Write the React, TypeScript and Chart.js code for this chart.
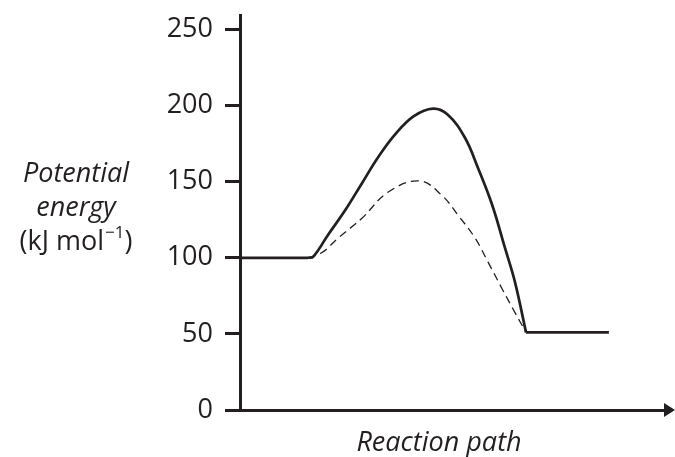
import React, { useEffect, useRef } from "react";
import { Chart, registerables } from "chart.js";

Chart.register(...registerables);

const INK = "#231f20";
const FONT = "'Open Sans', 'DejaVu Sans', sans-serif";

// y-axis tick values (kJ mol^-1)
const yTicks = [0, 50, 100, 150, 200, 250];

// Reaction path positions (arbitrary units) and potential energy
const reactantX = [0, 1.6];
const reactantY = [100, 100];

const solidX = [1.6, 1.72, 2.07, 2.47, 2.87, 3.25, 3.65, 4.09, 4.54, 4.89, 5.29, 5.6, 5.93, 6.24, 6.47, 6.73];
const solidY = [100, 100.6, 115, 131, 149, 166, 181, 193, 198, 194, 179, 159, 135, 106, 84, 51];

const dashedX = [1.6, 1.93, 2.31, 2.87, 3.48, 4.22, 4.75, 5.13, 5.53, 5.84, 6.16, 6.47, 6.73];
const dashedY = [100, 103.5, 113, 126, 143, 150.5, 141, 128, 113, 97, 80, 64, 51];

const productX = [6.73, 8.68];
const productY = [51, 51];

const yTitleLines = ["Potential", "energy"];
const yUnit = { main: "(kJ mol", sup: "\u22121", close: ")" };
const xTitle = "Reaction path";

const pts = (xs: number[], ys: number[]) => xs.map((x, i) => ({ x, y: ys[i] }));

const labelsPlugin = {
  id: "labelsAndArrow",
  afterDraw(chart: any) {
    const { ctx, chartArea } = chart;
    ctx.save();
    // arrowhead at the end of x axis
    const yb = chartArea.bottom;
    ctx.fillStyle = INK;
    ctx.beginPath();
    ctx.moveTo(chartArea.right - 1, yb - 7);
    ctx.lineTo(chartArea.right + 10, yb);
    ctx.lineTo(chartArea.right - 1, yb + 7);
    ctx.closePath();
    ctx.fill();

    // y title
    const cx = 76;
    ctx.textAlign = "center";
    ctx.textBaseline = "alphabetic";
    ctx.font = `italic 500 27px ${FONT}`;
    ctx.fillText(yTitleLines[0], cx, 182);
    ctx.fillText(yTitleLines[1], cx, 216);

    ctx.font = `500 27px ${FONT}`;
    const wMain = ctx.measureText(yUnit.main).width;
    const wClose = ctx.measureText(yUnit.close).width;
    ctx.font = `500 17px ${FONT}`;
    const wSup = ctx.measureText(yUnit.sup).width;
    const total = wMain + wSup + wClose + 1;
    const x0 = cx - total / 2;
    ctx.textAlign = "left";
    ctx.font = `500 27px ${FONT}`;
    ctx.fillText(yUnit.main, x0, 250);
    ctx.font = `500 17px ${FONT}`;
    ctx.fillText(yUnit.sup, x0 + wMain + 1, 238);
    ctx.font = `500 27px ${FONT}`;
    ctx.fillText(yUnit.close, x0 + wMain + wSup + 1, 250);

    // x title
    ctx.textAlign = "center";
    ctx.font = `italic 500 27px ${FONT}`;
    ctx.fillText(xTitle, 439, 451);
    ctx.restore();
  },
};

const straight = (xs: number[], ys: number[]) => ({
  data: pts(xs, ys),
  borderColor: INK,
  borderWidth: 2.7,
  pointRadius: 0,
  tension: 0,
  fill: false,
});

export default function App() {
  const ref = useRef<HTMLCanvasElement | null>(null);

  useEffect(() => {
    if (!ref.current) return;
    const chart = new Chart(ref.current, {
      type: "line",
      data: {
        datasets: [
          straight(reactantX, reactantY),
          {
            data: pts(solidX, solidY),
            borderColor: INK,
            borderWidth: 2.7,
            pointRadius: 0,
            tension: 0.4,
            fill: false,
          },
          {
            data: pts(dashedX, dashedY),
            borderColor: INK,
            borderWidth: 1.3,
            borderDash: [8, 5],
            pointRadius: 0,
            tension: 0.4,
            fill: false,
          },
          straight(productX, productY),
        ],
      },
      options: {
        responsive: false,
        animation: false,
        layout: { padding: { left: 0, right: 10, top: 15, bottom: 47 } },
        plugins: { legend: { display: false }, tooltip: { enabled: false } },
        scales: {
          x: {
            type: "linear",
            min: 0,
            max: 10,
            ticks: { display: false },
            grid: { display: false },
            border: { display: true, color: INK, width: 3 },
            afterFit: (s: any) => {
              s.height = 0;
              s.paddingLeft = 0;
              s.paddingRight = 0;
            },
          },
          y: {
            type: "linear",
            min: 0,
            max: 259.5,
            afterBuildTicks: (s: any) => {
              s.ticks = yTicks.map((v) => ({ value: v }));
            },
            afterFit: (s: any) => {
              s.width = 240;
              s.paddingTop = 0;
              s.paddingBottom = 0;
            },
            ticks: {
              color: INK,
              padding: 12,
              font: { family: FONT, size: 27, weight: 500 },
            },
            grid: {
              display: true,
              drawOnChartArea: false,
              drawTicks: true,
              tickLength: 15,
              tickWidth: 3,
              tickColor: INK,
            },
            border: { display: true, color: INK, width: 3 },
          },
        },
      },
      plugins: [labelsPlugin],
    });
    return () => chart.destroy();
  }, []);

  return (
    <div style={{ position: "absolute", left: 0, top: 0, width: 675, height: 457, background: "#fff" }}>
      <canvas ref={ref} width={675} height={457} style={{ display: "block" }} />
    </div>
  );
}
